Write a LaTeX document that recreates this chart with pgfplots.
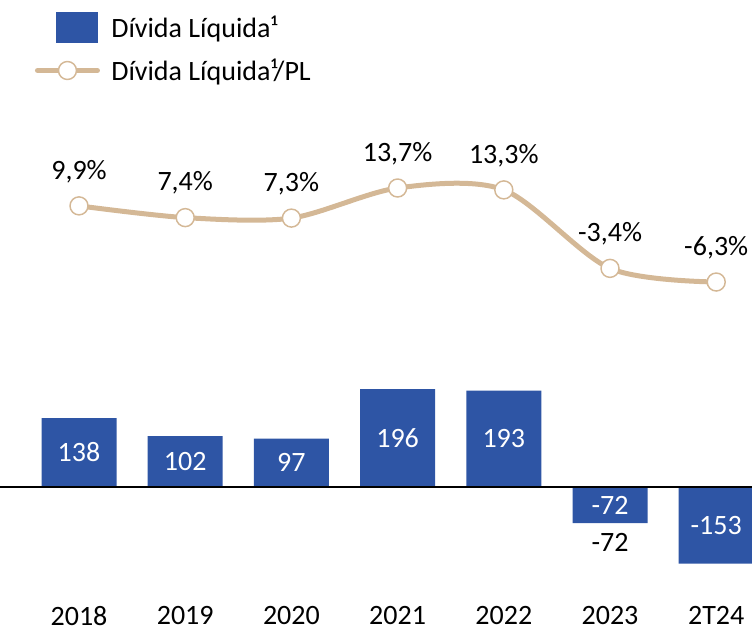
\documentclass[border=0pt]{standalone}
\usepackage{pgfplots}
\pgfplotsset{compat=1.18}
\usepackage{fontspec}
\setmainfont{Carlito}
\definecolor{barblue}{HTML}{2E55A5}
\definecolor{lineTan}{HTML}{D4B896}
\newcommand{\bigf}{\fontsize{21}{25}\selectfont}
\begin{document}
\begin{tikzpicture}
\path[use as bounding box] (0,0) rectangle (564pt,471.75pt);
\begin{axis}[at={(0pt,24pt)}, anchor=south west, scale only axis,
  width=564pt, height=157.5pt,
  xmin=-0.744, xmax=6.337, ymin=-220, ymax=200, clip=false,
  axis line style={draw=none}, ytick=\empty,
  xtick={0,1,2,3,4,5,6}, xticklabels={2018,2019,2020,2021,2022,2023,2T24},
  major tick length=0pt,
  xticklabel style={font=\bigf, inner sep=0pt, yshift=-6.5pt},
  /pgf/number format/assume math mode=true]
\addplot[ybar, bar width=56.25pt, bar shift=0pt, fill=barblue, draw=none,
  nodes near coords,
  visualization depends on=y \as \rawy,
  nodes near coords style={white, anchor=center, font=\bigf, shift={(axis direction cs:0,-\rawy/2)}}]
  coordinates {(0,138) (1,102) (2,97) (3,196) (4,193) (5,-72) (6,-153)};
\draw[black, line width=0.9pt] (axis cs:-0.744,0) -- (axis cs:6.337,0);
\addplot[draw=none, mark=none, nodes near coords,
  nodes near coords style={black, anchor=north, font=\bigf, yshift=-4pt}]
  coordinates {(5,-72)};
\end{axis}
\begin{axis}[at={(0pt,247.2pt)}, anchor=south west, scale only axis,
  width=564pt, height=105.75pt,
  xmin=-0.744, xmax=6.337, ymin=-10, ymax=20, hide axis, clip=false,
  legend style={at={(0.0465,2.035)}, anchor=north west, draw=none, fill=none,
    inner sep=0pt, outer sep=0pt, font=\bigf, row sep=12.5pt,
    nodes={inner sep=0pt},
    /tikz/every odd column/.append style={column sep=8.5pt}},
  legend cell align=left,
  legend entries={Dívida Líquida¹, Dívida Líquida¹/PL}]
\addlegendimage{legend image code/.code={\fill[barblue] (14.25pt,-10.9pt) rectangle (45pt,10.9pt);}}
\addlegendimage{legend image code/.code={\draw[lineTan, line width=3.75pt, line cap=round] (0pt,0pt) -- (45pt,0pt); \draw[lineTan, fill=white, line width=1.1pt] (22.5pt,0pt) circle (6.75pt);}}
\addplot[forget plot, lineTan, line width=3.75pt, smooth, mark=*, mark size=6.75pt,
  mark options={fill=white, draw=lineTan, line width=1.1pt},
  nodes near coords, point meta=explicit symbolic,
  nodes near coords style={black, anchor=base, yshift=20pt, font=\bigf}]
  coordinates {(0,9.9) [9,9\%] (1,7.4) [7,4\%] (2,7.3) [7,3\%] (3,13.7) [13,7\%] (4,13.3) [13,3\%] (5,-3.4) [-3,4\%] (6,-6.3) [-6,3\%]};
\end{axis}
\end{tikzpicture}
\end{document}
